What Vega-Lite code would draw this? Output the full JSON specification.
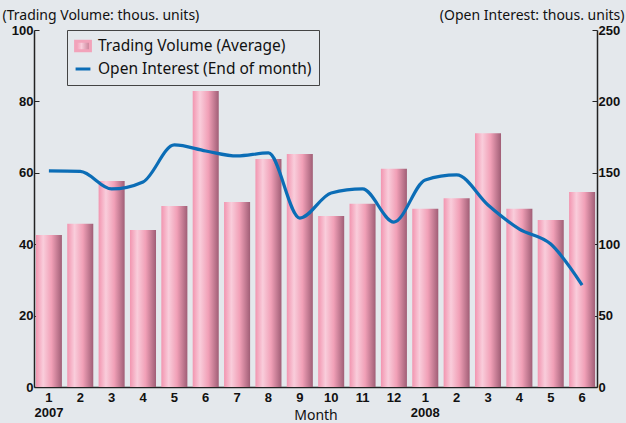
{
  "$schema": "https://vega.github.io/schema/vega-lite/v6.json",
  "width": 563,
  "height": 357,
  "autosize": {"type": "none"},
  "padding": {"left": 34, "top": 30, "right": 29, "bottom": 36},
  "background": "#e4e8ec",
  "config": {
    "view": {"stroke": null},
    "font": "Liberation Sans",
    "axis": {"grid": false}
  },
  "data": {
    "values": [
      {"period": "2007-01", "volume": 42.6, "oi": 151.3},
      {"period": "2007-02", "volume": 45.7, "oi": 151.0},
      {"period": "2007-03", "volume": 57.7, "oi": 138.7},
      {"period": "2007-04", "volume": 44.0, "oi": 143.6},
      {"period": "2007-05", "volume": 50.7, "oi": 169.5},
      {"period": "2007-06", "volume": 82.9, "oi": 165.3},
      {"period": "2007-07", "volume": 51.8, "oi": 161.8},
      {"period": "2007-08", "volume": 63.9, "oi": 163.9},
      {"period": "2007-09", "volume": 65.3, "oi": 118.3},
      {"period": "2007-10", "volume": 47.9, "oi": 135.9},
      {"period": "2007-11", "volume": 51.3, "oi": 138.7},
      {"period": "2007-12", "volume": 61.1, "oi": 115.5},
      {"period": "2008-01", "volume": 49.9, "oi": 145.0},
      {"period": "2008-02", "volume": 52.9, "oi": 148.5},
      {"period": "2008-03", "volume": 71.1, "oi": 127.5},
      {"period": "2008-04", "volume": 49.9, "oi": 110.6},
      {"period": "2008-05", "volume": 46.8, "oi": 100.1},
      {"period": "2008-06", "volume": 54.6, "oi": 71.4}
    ]
  },
  "encoding": {
    "x": {
      "field": "period",
      "type": "ordinal",
      "scale": {"paddingInner": 0.17, "paddingOuter": 0.06},
      "axis": {
        "title": "Month",
        "titleFont": "Noto Sans",
        "titleFontSize": 14,
        "titleFontWeight": "normal",
        "titleColor": "#111",
        "titlePadding": -11,
        "labelAngle": 0,
        "labelFontWeight": "bold",
        "labelFontSize": 13,
        "labelColor": "#111",
        "labelPadding": 4,
        "labelLineHeight": 15,
        "labelExpr": "slice(datum.value,5)=='01' ? ['1', slice(datum.value,0,4)] : '' + toNumber(slice(datum.value,5))",
        "ticks": false,
        "domainColor": "#222",
        "domainWidth": 1.5
      }
    }
  },
  "layer": [
    {
      "mark": {
        "type": "bar",
        "fill": {
          "gradient": "linear",
          "x1": 0, "y1": 0, "x2": 1, "y2": 0,
          "stops": [
            {"offset": 0, "color": "#f295b0"},
            {"offset": 0.28, "color": "#f9cddb"},
            {"offset": 0.6, "color": "#f1a0b7"},
            {"offset": 1, "color": "#a05e76"}
          ]
        }
      },
      "encoding": {
        "y": {
          "field": "volume",
          "type": "quantitative",
          "scale": {"domain": [0, 100], "nice": false},
          "axis": {
            "values": [0, 20, 40, 60, 80, 100],
            "title": "(Trading Volume: thous. units)",
            "titleAngle": 0,
            "titleAlign": "left",
            "titleBaseline": "alphabetic",
            "titleX": -32,
            "titleY": -11,
            "titleFont": "Noto Sans",
            "titleFontSize": 14,
            "titleFontWeight": "normal",
            "titleColor": "#111",
            "labelFontWeight": "bold",
            "labelFontSize": 13,
            "labelColor": "#111",
            "tickSize": -5,
            "tickColor": "#222",
            "labelPadding": 6,
            "domainColor": "#222",
            "domainWidth": 1.5
          }
        }
      }
    },
    {
      "mark": {"type": "line", "interpolate": "monotone", "strokeWidth": 3.2},
      "encoding": {
        "y": {
          "field": "oi",
          "type": "quantitative",
          "scale": {"domain": [0, 250], "nice": false},
          "axis": {
            "orient": "right",
            "values": [0, 50, 100, 150, 200, 250],
            "title": "(Open Interest: thous. units)",
            "titleAngle": 0,
            "titleAlign": "right",
            "titleBaseline": "alphabetic",
            "titleX": 27,
            "titleY": -11,
            "titleFont": "Noto Sans",
            "titleFontSize": 14,
            "titleFontWeight": "normal",
            "titleColor": "#111",
            "labelFontWeight": "bold",
            "labelFontSize": 13,
            "labelColor": "#111",
            "tickSize": -5,
            "tickColor": "#222",
            "labelPadding": 6,
            "domainColor": "#222",
            "domainWidth": 1.5
          }
        },
        "color": {
          "datum": "Open Interest (End of month)",
          "scale": {
            "domain": ["Trading Volume (Average)", "Open Interest (End of month)"],
            "range": ["#f2a3ba", "#0b6db6"]
          },
          "legend": {
            "title": null,
            "orient": "none",
            "legendX": 33,
            "legendY": 0,
            "direction": "vertical",
            "strokeColor": "#444",
            "fillColor": null,
            "padding": 7,
            "rowPadding": 3,
            "labelFont": "Noto Sans",
            "labelFontSize": 15.5,
            "labelColor": "#111",
            "labelLimit": 400,
            "labelOffset": 6,
            "labelExpr": "datum.label + '        '",
            "symbolSize": 220,
            "encode": {
              "labels": {
                "update": {"text": {"signal": "datum.label + '\u00a0\u00a0\u00a0\u00a0\u00a0\u00a0\u00a0'"}}
              },
              "symbols": {
                "update": {
                  "shape": [
                    {"test": "datum.value == 'Trading Volume (Average)'", "value": "M-1,-0.65H1V0.65H-1Z"},
                    {"value": "stroke"}
                  ],
                  "fill": [
                    {"test": "datum.value == 'Trading Volume (Average)'", "value": {"gradient": "linear", "x1": 0, "y1": 0, "x2": 1, "y2": 0, "stops": [{"offset": 0, "color": "#f295b0"}, {"offset": 0.4, "color": "#f9cddb"}, {"offset": 1, "color": "#c37890"}]}},
                    {"value": "transparent"}
                  ],
                  "stroke": [
                    {"test": "datum.value == 'Trading Volume (Average)'", "value": "transparent"},
                    {"value": "#0b6db6"}
                  ],
                  "strokeWidth": {"value": 3}
                }
              }
            }
          }
        }
      }
    }
  ],
  "resolve": {"scale": {"y": "independent"}}
}
